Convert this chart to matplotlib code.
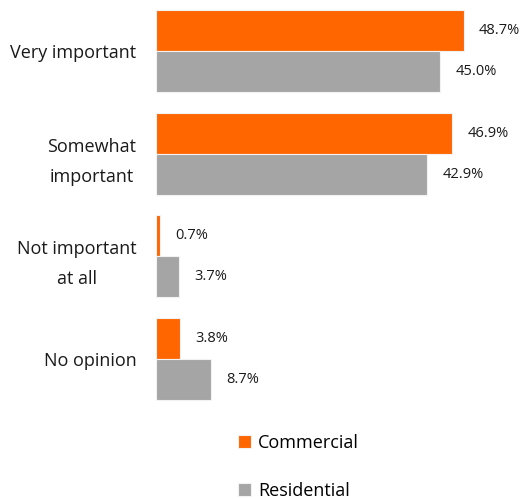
import matplotlib
matplotlib.use("Agg")
import matplotlib.pyplot as plt
import numpy as np

plt.rcParams['font.family'] = ['Open Sans', 'DejaVu Sans']

categories = ['Very important', 'Somewhat\nimportant', 'Not important\nat all', 'No opinion']
commercial = [48.7, 46.9, 0.7, 3.8]
residential = [45.0, 42.9, 3.7, 8.7]
series_names = ['Commercial', 'Residential']

orange = '#FF6600'
grey = '#A5A5A5'

fig = plt.figure(figsize=(5.27, 4.99), dpi=100)
ax = fig.add_axes([156 / 527, 1 - 410 / 499, 1 - 156 / 527, 410 / 499])

y = np.arange(len(categories))
h = 0.4
b1 = ax.barh(y - h / 2, commercial, height=h, color=orange, edgecolor='#F2F2F2',
             linewidth=0.8, label=series_names[0])
b2 = ax.barh(y + h / 2, residential, height=h, color=grey, edgecolor='#F2F2F2',
             linewidth=0.8, label=series_names[1])

for bars, vals in ((b1, commercial), (b2, residential)):
    for bar, v in zip(bars, vals):
        ax.annotate(f'{v:.1f}%', (v, bar.get_y() + bar.get_height() / 2),
                    xytext=(11, 0), textcoords='offset points',
                    ha='left', va='center', fontsize=10.5, color='#1a1a1a')

ax.set_xlim(0, 58.7)
ax.set_ylim(3.5, -0.5)
ax.set_yticks(y)
ax.set_yticklabels(categories, fontsize=13, color='#1a1a1a', multialignment='center',
                   linespacing=1.85)
ax.tick_params(axis='y', length=0, pad=14)
ax.set_xticks([])
for s in ax.spines.values():
    s.set_visible(False)

fig.legend(handles=[b1, b2], labels=series_names, loc='upper left',
           bbox_to_anchor=(238 / 527, 1 - 434 / 499), frameon=False,
           fontsize=13, handlelength=0.7, handleheight=0.7, handletextpad=0.4,
           labelspacing=1.65, borderpad=0, borderaxespad=0)

fig.savefig('out.png', dpi=100)
